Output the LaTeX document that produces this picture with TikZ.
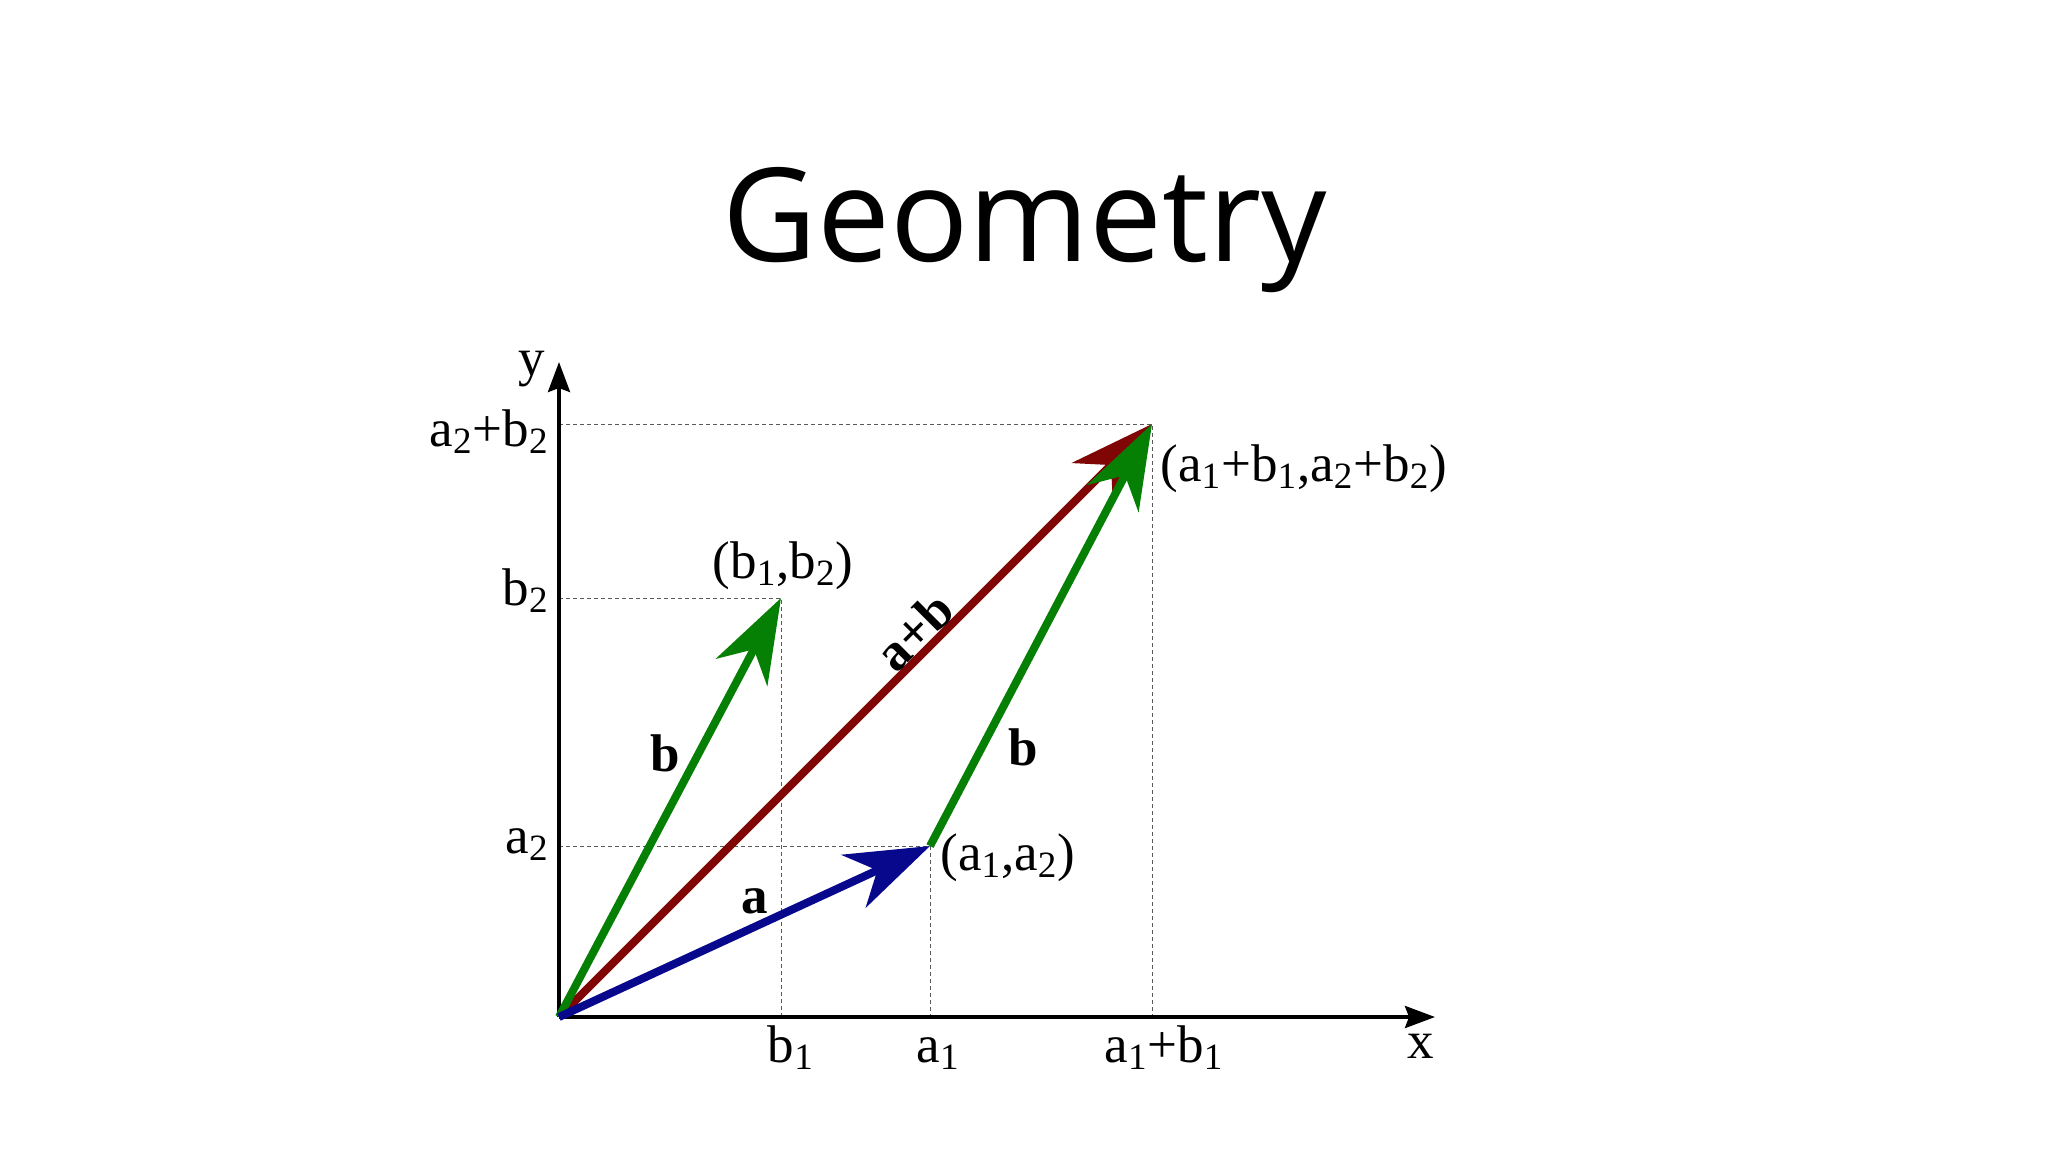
\documentclass[tikz,border=0pt]{standalone}
\usepackage{fontspec}
\setmainfont{Liberation Serif}
\newfontfamily\titlefont{Open Sans}
\usepackage{tikz}
\usetikzlibrary{arrows.meta}
\definecolor{vecblue}{RGB}{8,8,140}
\definecolor{vecgreen}{RGB}{5,128,5}
\definecolor{vecred}{RGB}{128,5,5}
\newcommand{\sbs}[1]{\textsubscript{#1}}

\begin{document}
\begin{tikzpicture}[x=0.5pt,y=-0.5pt]
         \tikzset{vec/.style={line width=4pt,-{Stealth[length=42pt,width=29pt,inset=13pt]}}}
         \tikzset{axis/.style={line width=1.8pt,-{Stealth[length=15pt,width=11pt,inset=2pt]}}}
         \tikzset{guide/.style={black!65,line width=0.5pt,dash pattern=on 2pt off 1.5pt}}
         \tikzset{lbl/.style={font=\fontsize{26.5}{30}\selectfont,inner sep=0pt}}
         \tikzset{vlbl/.style={font=\bfseries\fontsize{26.5}{30}\selectfont,inner sep=0pt}}
         \useasboundingbox (0,0) rectangle (2048,1152);
         \node[font=\titlefont\fontsize{65}{70}\selectfont,anchor=base] (title) at (1025,261) {Geometry};
         % points
         \coordinate (O) at (559,1017);
         \coordinate (A) at (930,846);
         \coordinate (B) at (781,598);
         \coordinate (S) at (1152,424);
         \coordinate (xend) at (1435,1017);
         \coordinate (yend) at (559,362);
         \coordinate (xA) at (930,1017);
         \coordinate (xB) at (781,1017);
         \coordinate (xS) at (1152,1017);
         \coordinate (yA) at (559,846);
         \coordinate (yB) at (559,598);
         \coordinate (yS) at (559,424);
         % guides
         \draw[guide] (yS) -- (S) -- (xS);
         \draw[guide] (yB) -- (B) -- (xB);
         \draw[guide] (yA) -- (A) -- (xA);
         % axes
         \draw[axis] (O) -- (xend);
         \draw[axis] (O) -- (yend);
         % vectors
         \draw[vec,vecred] (O) -- (S);
         \draw[vec,vecgreen] (O) -- (B);
         \draw[vec,vecgreen] (A) -- (S);
         \draw[vec,vecblue] (O) -- (A);
         % labels
         \node[lbl,anchor=base east] (ylab) at (545,375) {y};
         \node[lbl,anchor=base east] (xlab) at (1434,1058) {x};
         \node[lbl,anchor=base east] (labS2) at (549,446) {a\sbs{2}+b\sbs{2}};
         \node[lbl,anchor=base east] (labB2) at (549,605) {b\sbs{2}};
         \node[lbl,anchor=base east] (labA2) at (549,853) {a\sbs{2}};
         \node[lbl,anchor=base] (labB1) at (791,1062) {b\sbs{1}};
         \node[lbl,anchor=base] (labA1) at (938,1062) {a\sbs{1}};
         \node[lbl,anchor=base] (labS1) at (1164,1062) {a\sbs{1}+b\sbs{1}};
         \node[lbl,anchor=base] (ptB) at (783,578) {(b\sbs{1},b\sbs{2})};
         \node[lbl,anchor=base west] (ptA) at (940,870) {(a\sbs{1},a\sbs{2})};
         \node[lbl,anchor=base west] (ptS) at (1160,481) {(a\sbs{1}+b\sbs{1},a\sbs{2}+b\sbs{2})};
         \node[vlbl,anchor=base] (nameB) at (665,771) {b};
         \node[vlbl,anchor=base] (nameB2) at (1023,765) {b};
         \node[vlbl,anchor=base] (nameA) at (755,913) {a};
         \node[vlbl,rotate=45] (nameS) at (914,631) {a+b};
\end{tikzpicture}
\end{document}
